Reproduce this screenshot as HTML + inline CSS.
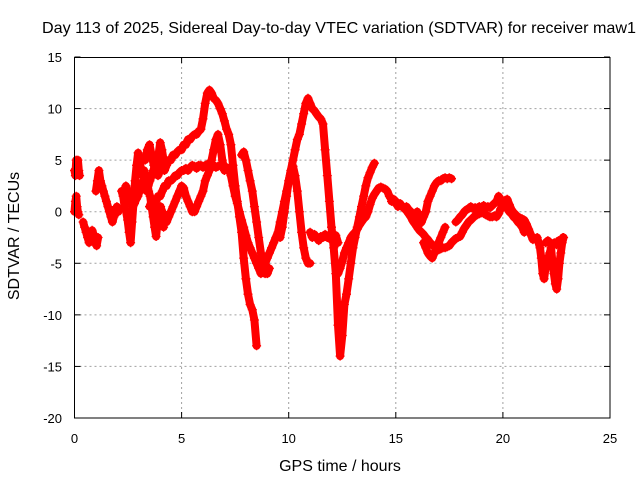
<!DOCTYPE html>
<html><head><meta charset="utf-8"><style>
body{margin:0;background:#fff;}
svg{display:block;font-family:"Liberation Sans",sans-serif;}
</style></head><body>
<svg id="chart" width="640" height="480" viewBox="0 0 640 480" xmlns="http://www.w3.org/2000/svg">
<rect width="640" height="480" fill="#fff"/>
<text x="339" y="33" font-size="16" text-anchor="middle" textLength="594" lengthAdjust="spacingAndGlyphs">Day 113 of 2025, Sidereal Day-to-day VTEC variation (SDTVAR) for receiver maw1</text>
<text x="340" y="471" font-size="16" text-anchor="middle">GPS time / hours</text>
<text transform="translate(19,236) rotate(-90)" font-size="16" text-anchor="middle">SDTVAR / TECUs</text>
<g id="grid"></g><g id="ticks"></g><g id="marks"></g>
<rect x="74.5" y="57.5" width="535.5" height="360.5" fill="none" stroke="#000" stroke-width="1"/>
</svg>
<script>
const xTicks=[0,5,10,15,20,25];
const yTicks=[15,10,5,0,-5,-10,-15,-20];
// tracks: start hour, step (hours), values (TECU)
const trackStarts=[0,0,0.4,1.0,2.2,2.4,3.3,3.5,3.8,7.8,9.6,11.0,12.3,16.0,16.3,17.8,14.8,21.6,22.0];
const trackSteps=[0.04,0.04,0.07,0.07,0.07,0.08,0.1,0.1,0.1,0.1,0.1,0.1,0.1,0.1,0.1,0.1,0.1,0.065,0.1];
const trackValues=[
[4,3.5,5,4.5,5,4,3.5],
[0,1,1.5,0.5,0,-0.3],
[-1,-1.5,-2,-2.5,-3,-2,-1.8,-2.2,-2.8,-3.3,-2.5],
[2,3,4,3,2.5,2,1.5,1,0.5,0,-0.5,-1,-0.5,0.2,0.5,0],
[2,1.5,0.5,0,-0.8,-2,-3,-1,1,3,4.5,5.7,5,4,3.5,4,3.5,3,2,1.5,0.5,-0.5,-1.5,-2.4,-1,0,0.5,-0.5,-1.5],
[2.5,2,1.5,1,0.5,0.8,1.2,1.5,2,2.5,3,2.5,2,2.5,3,3.5,4,4.5,5,5.5,6.7,6,5],
[5,6,6.5,5.5,4.5,4,3.5,4,4.5,4,4.5,5,5,5.5,5.5,5.8,6,6,6.5,6.5,7,7,7.3,7.5,7.5,7.8,8,9,10.5,11.5,11.8,11.5,11,10.8,10.5,10,9.5,8.8,8,7.5,6.5,4.5,2.5,1,-0.5,-2,-4.5,-6.5,-8,-9,-9.5,-10.5,-13],
[0.5,1,0.5,1,1.5,1.5,2,2.5,2.5,3,3,3.2,3.5,3.5,3.8,4,4,4.2,4,4.3,4.5,4.4,4.2,4.5,4.5,4.3,4.5,4.6,4.4,4.5,4.5,4.3,4.4,4.5,4.5,4.4,4.3,4.2,3.5,2.5,1.5,0.8,0,-0.8,-1.5,-2.3,-3,-3.5,-4,-4.5,-5,-5.5,-6,-5.5,-5,-4.5,-4,-3.5,-3,-2.5,-2,-1,0,1,2,3,4,5,6,7,7.5,8.5,9.5,10.5,11,10.5,10,9.8,9.5,9.2,9,8.5,6,3.5,1,-1.5,-3.5,-6,-11,-14,-12,-9,-8,-6.5,-5,-3.5,-2.5,-1.5,-0.5,0.5,1.5,2.5,3.3,3.8,4.3,4.7],
[-0.5,0,0.5,0,-0.5,-1,-0.5,0,0.5,1,1.5,2,2.5,2.3,1.5,1,0.5,0,0,0.5,1,1.5,2,3,3.5,4,5,6,7,7.5,6.5,5,4],
[5.5,5.8,5,4,3,2,0.5,-1,-2.5,-4,-5.5,-6,-6,-5.5],
[-2.5,-1.5,0,1.5,3,4,4.4,3.5,2,0,-2,-3.5,-4.5,-5,-5],
[-2,-2.5,-2.2,-2.5,-2.8,-2.4,-2.5,-2.2,-2.5,-2.6,-2.4,-2.5,-2.3,-3],
[-6,-5.5,-4.8,-4,-3.5,-3,-2.5,-2.2,-2,-1.7,-1.3,-1,-0.7,-0.5,0,0.7,1.3,1.7,2,2.3,2.4,2.3,2.2,2,1.5,1.2,1,0.8,0.8,0.6,0.5,0.3,0.1,-0.2,-0.5,-0.9,-1.2,-1.5,-1.8,-2,-2.2,-2.5,-2.7,-3,-3.2,-3.4,-3.6,-3.7,-3.6,-3.5,-3.5,-3.4,-3.3,-3,-2.8,-2.6,-2.5,-2.4,-2,-1.6,-1.3,-1,-0.8,-0.6,-0.4,-0.3,-0.2,-0.1,-0.1,-0.3,-0.4,-0.5,-0.5,-0.4,-0.5,-0.2,0.3,0.8,1.1,1.2,0.7,0.2,-0.1,-0.3,-0.5,-0.6,-0.7,-0.8,-1.2,-1.7,-2.2,-2.7],
[-1.5,-1.2,-1,-0.5,0,1,1.5,2,2.5,2.8,3,3,3.2,3.3,3.2,3.3,3.2],
[-3,-3.5,-4,-4.3,-4.5,-4,-3.5,-3,-2.5,-2,-1.5],
[-1,-0.8,-0.5,-0.3,0,0.2,0.3,0.5,0.3,0.4,0.2,0.5,0.3,0.6,0.3,0.5,0.4,0.6,0.8,1,1.5,1.2,0.8,0.5,0.3,0,-0.2,-0.5,-0.7,-1,-1.2,-1.5,-2],
[1,1.2,1,0.5,0.8,0.5,0.3,0.5,0.2,0,-0.5,-0.3,0,-0.5,-1],
[-2.5,-3,-3.5,-4.5,-6,-6.5,-5.5,-5,-4.5,-4,-3.5,-5,-6,-7,-7.5,-6.5,-5,-4,-3,-2.5],
[-3,-2.8,-3,-3.3,-3,-3.2,-2.8,-3,-2.5]
];
const X0=74.5,X1=610,Y0=418,Y1=57,XMIN=0,XMAX=25,YMIN=-20,YMAX=15;
const sx=v=>X0+(v-XMIN)/(XMAX-XMIN)*(X1-X0);
const sy=v=>Y0-(v-YMIN)/(YMAX-YMIN)*(Y0-Y1);
const NS='http://www.w3.org/2000/svg';
function mk(tag,attrs,parent){const e=document.createElementNS(NS,tag);for(const k in attrs)e.setAttribute(k,attrs[k]);parent.appendChild(e);return e;}
const grid=document.getElementById('grid'),ticks=document.getElementById('ticks'),marks=document.getElementById('marks');
xTicks.forEach(t=>{
  const x=sx(t);
  if(t>XMIN&&t<XMAX){const g=mk('line',{x1:x,y1:Y1,x2:x,y2:Y0,stroke:'#a0a0a0','stroke-dasharray':'2,3','stroke-width':1},grid);
  
  }
  mk('line',{x1:x,y1:Y0,x2:x,y2:Y0-6,stroke:'#000'},ticks);
  mk('line',{x1:x,y1:Y1,x2:x,y2:Y1+6,stroke:'#000'},ticks);
  const l=mk('text',{x:x,y:443,'font-size':13,'text-anchor':'middle'},ticks);l.textContent=t;
  
  
});
yTicks.forEach(t=>{
  const y=sy(t);
  if(t>YMIN&&t<YMAX){const g=mk('line',{x1:X0,y1:y,x2:X1,y2:y,stroke:'#a0a0a0','stroke-dasharray':'2,3','stroke-width':1},grid);
  
  }
  mk('line',{x1:X0,y1:y,x2:X0+6,y2:y,stroke:'#000'},ticks);
  mk('line',{x1:X1,y1:y,x2:X1-6,y2:y,stroke:'#000'},ticks);
  const l=mk('text',{x:62,y:y+5,'font-size':13,'text-anchor':'end'},ticks);l.textContent=t;
  
  
});
let d='';
trackValues.forEach((vals,i)=>{
  const pts=vals.map((v,j)=>[sx(trackStarts[i]+j*trackSteps[i]),sy(v)]);
  const band=mk('polyline',{points:pts.map(p=>p[0].toFixed(1)+','+p[1].toFixed(1)).join(' '),stroke:'#ff0000','stroke-width':8,fill:'none','stroke-linejoin':'round','stroke-linecap':'round'},marks);
  
  
  pts.forEach(([x,y])=>{
    d+=`M${(x-4.5).toFixed(1)} ${y.toFixed(1)}h9M${x.toFixed(1)} ${(y-4.5).toFixed(1)}v9`;
  });
});
const p=mk('path',{d:d,stroke:'#ff0000','stroke-width':1.3,fill:'none'},marks);


</script>
</body></html>
